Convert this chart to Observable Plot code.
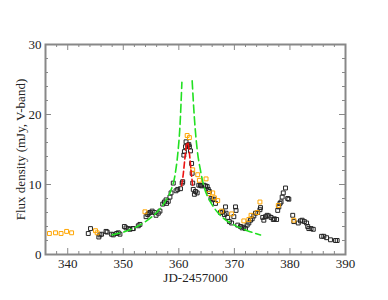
<!DOCTYPE html>
<html><head><meta charset="utf-8">
<script src="https://cdn.jsdelivr.net/npm/d3@7"></script>
<script src="https://cdn.jsdelivr.net/npm/@observablehq/plot@0.6"></script>
<style>body{margin:0;background:#fff} svg, svg text{font-family:"Liberation Serif","Times New Roman",serif !important;}</style>
</head><body><div id="chart"></div>
<script>
// Black (main photometry) points
const blackJD = [343.7,344.1,345.6,345.8,346.1,346.9,347.1,347.9,348.2,348.8,349.1,349.4,350.2,350.5,350.9,351.2,351.7,351.8,352.7,353.0,354.1,354.4,354.6,354.8,355.2,355.6,355.9,356.3,356.6,357.1,357.4,357.7,357.8,358.1,358.4,358.6,359.0,359.5,359.8,360.3,360.6,360.7,360.9,361.0,361.2,361.3,361.6,361.8,361.9,362.1,362.3,362.4,362.5,362.6,362.8,363.0,363.3,363.6,363.9,364.1,364.5,364.8,365.1,365.3,365.5,365.8,366.0,366.3,366.6,367.5,367.9,368.2,368.4,368.5,368.8,369.1,369.5,369.9,370.2,370.3,370.6,371.1,371.4,371.7,372.0,372.3,372.6,372.9,373.2,373.5,373.8,374.2,374.6,374.7,375.1,375.3,375.6,375.9,376.2,376.6,377.0,377.2,377.6,377.8,378.0,378.2,378.4,378.6,378.8,379.2,379.6,379.8,380.5,380.7,381.5,381.9,382.2,382.6,383.0,383.2,383.4,383.8,384.2,385.7,386.1,386.6,387.3,388.2,388.5];
const blackFlux = [3.0,3.7,2.5,2.8,2.9,3.3,3.2,2.9,2.8,3.0,3.1,2.9,4.0,3.8,3.7,3.6,3.7,3.7,4.1,4.3,5.4,5.7,5.9,6.0,6.2,6.0,5.6,5.9,6.2,7.2,7.5,7.8,7.3,7.6,8.2,8.8,10.2,9.1,9.3,9.4,10.2,10.4,14.2,14.7,15.4,16.1,15.6,15.7,15.4,14.8,13.0,11.6,10.2,9.3,8.6,9.0,8.8,9.9,9.9,9.8,9.9,9.8,9.7,9.3,9.0,8.0,7.8,7.9,7.3,6.0,6.1,5.7,6.8,5.9,5.3,4.7,4.5,5.4,6.8,6.3,4.2,4.0,3.8,3.9,3.7,4.2,4.5,4.9,5.1,5.5,5.9,6.0,6.4,6.7,5.3,4.9,5.4,5.6,5.5,5.3,5.0,5.1,5.0,6.3,6.8,7.3,7.5,8.2,8.8,9.5,8.0,7.9,5.6,4.7,4.5,4.8,4.9,4.7,4.5,4.0,3.7,3.7,3.6,2.6,2.6,2.4,2.1,2.0,2.0];
// Orange (second data set) points
const orangeJD = [336.7,337.8,338.8,339.8,340.7,345.0,345.3,353.9,361.5,361.9,362.5,363.4,363.7,364.9,365.4,366.1,366.4,367.0,367.7,369.5,371.7,372.6,373.0,374.1,374.6,377.9,380.7];
const orangeFlux = [3.0,3.1,3.0,3.3,3.1,3.4,3.1,6.1,17.0,16.7,12.1,11.4,10.6,10.8,8.7,8.8,8.1,7.7,6.2,5.8,4.8,5.0,5.6,6.0,7.5,7.0,4.9];
// Green dashed model, two branches
const greenLeftJD = [348.0,350.0,352.0,354.0,356.0,357.5,358.5,359.3,359.8,360.2,360.55];
const greenLeftFlux = [2.8,3.2,3.8,4.7,6.0,7.5,9.0,11.3,14.3,18.3,24.6];
const greenRightJD = [362.4,362.8,363.3,363.9,364.6,365.5,366.5,368.0,370.0,372.0,374.7];
const greenRightFlux = [24.8,19.5,15.0,12.0,9.5,7.8,6.5,5.2,4.2,3.5,2.8];
// Red dashed model
const redJD = [360.5,360.8,361.1,361.4,361.6,361.9,362.2,362.5];
const redFlux = [9.8,11.5,13.8,15.8,16.0,14.5,12.0,9.8];
// Axis ticks
const xMajor = [340,350,360,370,380,390];
const xMinor = d3.range(336,391,2).filter(v => v % 10 !== 0);
const yMajor = [0,10,20,30];
const yMinor = d3.range(2,30,2).filter(v => v % 10 !== 0);

const toRows = (xs, ys) => xs.map((x,i) => ({x, y: ys[i]}));
const black = toRows(blackJD, blackFlux);
const orange = toRows(orangeJD, orangeFlux);
const greenL = toRows(greenLeftJD, greenLeftFlux);
const greenR = toRows(greenRightJD, greenRightFlux);
const red = toRows(redJD, redFlux);

const W = 388, H = 300, mt = 44, mb = 46, ml = 45, mr = 43;
const ph = H - mt - mb, pw = W - ml - mr;
const axisCol = "#888";

const chart = Plot.plot({
  width: W, height: H,
  marginTop: mt, marginBottom: mb, marginLeft: ml, marginRight: mr,
  style: {fontFamily: "Liberation Serif, serif", fontSize: "12px", color: "#222", background: "#fff"},
  x: {domain: [336, 390]},
  y: {domain: [0, 30]},
  marks: [
    Plot.axisX(xMajor, {tickSize: 0, tickPadding: 4, fontSize: 13, label: "JD-2457000", labelAnchor: "center", labelArrow: "none", labelOffset: 27}),
    Plot.axisY(yMajor, {tickSize: 0, tickPadding: 4, fontSize: 13, label: "Flux density (mJy, V-band)", labelAnchor: "center", labelArrow: "none", labelOffset: 30}),
    // inward ticks on all four sides
    Plot.tickX(xMajor, {x: d => d, stroke: axisCol, insetTop: ph - 6}),
    Plot.tickX(xMinor, {x: d => d, stroke: axisCol, insetTop: ph - 3}),
    Plot.tickX(xMajor, {x: d => d, stroke: axisCol, insetBottom: ph - 6}),
    Plot.tickX(xMinor, {x: d => d, stroke: axisCol, insetBottom: ph - 3}),
    Plot.tickY(yMajor, {y: d => d, stroke: axisCol, insetRight: pw - 6}),
    Plot.tickY(yMinor, {y: d => d, stroke: axisCol, insetRight: pw - 3}),
    Plot.tickY(yMajor, {y: d => d, stroke: axisCol, insetLeft: pw - 6}),
    Plot.tickY(yMinor, {y: d => d, stroke: axisCol, insetLeft: pw - 3}),
    Plot.dot(black, {x: "x", y: "y", symbol: "square", r: 2.2, stroke: "#222", strokeWidth: 1, fill: "none"}),
    Plot.dot(orange, {x: "x", y: "y", symbol: "square", r: 2.2, stroke: "#ffa500", strokeWidth: 1, fill: "none"}),
    Plot.line(greenL, {x: "x", y: "y", stroke: "#22e022", strokeWidth: 1.6, strokeDasharray: "8,4", curve: "monotone-x"}),
    Plot.line(greenR, {x: "x", y: "y", stroke: "#22e022", strokeWidth: 1.6, strokeDasharray: "8,4", curve: "monotone-x"}),
    Plot.line(red, {x: "x", y: "y", stroke: "#ee1111", strokeWidth: 1.6, strokeDasharray: "6,3", curve: "monotone-x"}),
    Plot.frame({stroke: axisCol, strokeWidth: 2})
  ]
});
document.getElementById("chart").append(chart);
</script>
</body></html>
